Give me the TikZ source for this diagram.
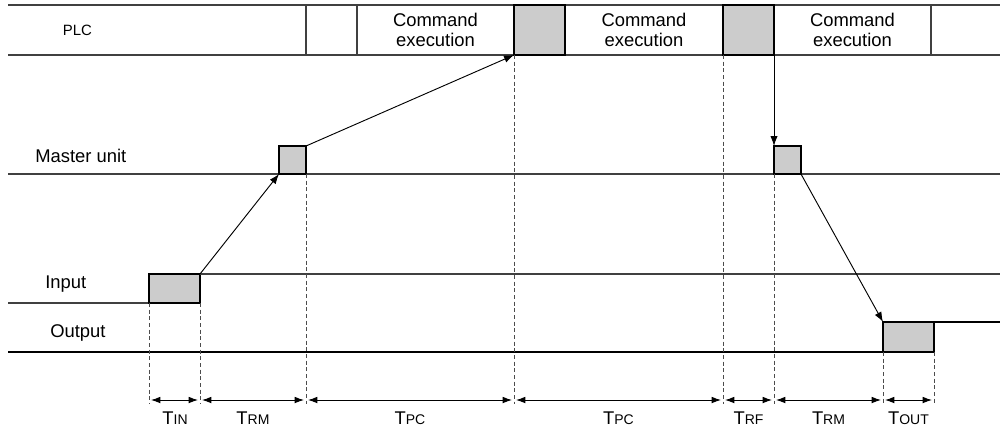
\documentclass[tikz,border=0pt]{standalone}
\usepackage{fontspec}
\setmainfont{Liberation Sans}
\usetikzlibrary{arrows.meta}
\begin{document}
\begin{tikzpicture}[x=0.75pt,y=-0.75pt,
  hline/.style={draw=black!75, line width=0.8pt},
  gbox/.style={draw=black, fill=black!20, line width=0.8pt, inner sep=0pt, outer sep=0pt, anchor=north west},
  dline/.style={draw=black!70, line width=0.7pt, dash pattern=on 3pt off 2pt},
  sig/.style={draw=black, line width=0.7pt, -{Latex[length=7.5pt,width=5.5pt]}},
  dim/.style={draw=black, line width=0.7pt, {Latex[length=7pt,width=5pt]}-{Latex[length=7pt,width=5pt]}, shorten >=1.5pt, shorten <=1.5pt},
  lbl/.style={font=\fontsize{13.8pt}{15.5pt}\selectfont, inner sep=0pt},
  cmd/.style={font=\fontsize{13.8pt}{15.5pt}\selectfont, align=center, inner sep=0pt},
  tlab/.style={inner sep=0pt, anchor=base}
]
\useasboundingbox (0,0) rectangle (1000,430);
% PLC band
\draw[hline] (8,5) -- (1000,5);
\draw[hline] (8,55) -- (1000,55);
\draw[hline] (306,5) -- (306,55);
\draw[hline] (357,5) -- (357,55);
\draw[hline] (931,5) -- (931,55);
\node[gbox, minimum width=38.25pt, minimum height=37.5pt] (p1) at (514,5) {};
\node[gbox, minimum width=38.25pt, minimum height=37.5pt] (p2) at (723,5) {};
\node[lbl, font=\fontsize{11.2pt}{13pt}\selectfont] (plc) at (77.5,30) {PLC};
\node[cmd] (c1) at (435.5,30) {Command\\execution};
\node[cmd] (c2) at (644,30) {Command\\execution};
\node[cmd] (c3) at (852.5,30) {Command\\execution};
% Master unit
\node[lbl, anchor=west] (mu) at (35,156) {Master unit};
\draw[hline] (8,174) -- (1000,174);
\node[gbox, minimum width=20.25pt, minimum height=21pt] (m1) at (279,146) {};
\node[gbox, minimum width=20.25pt, minimum height=21pt] (m2) at (774,146) {};
% Input
\node[lbl, anchor=west] (in) at (45,284) {Input};
\draw[hline] (8,303) -- (149,303);
\node[gbox, minimum width=38.25pt, minimum height=21.75pt] (ib) at (149,274) {};
\draw[hline] (ib.north east) -- (1000,274);
% Output
\node[lbl, anchor=west] (out) at (50,333) {Output};
\draw[draw=black, line width=0.8pt] (8,352) -- (883,352);
\node[gbox, minimum width=38.25pt, minimum height=22.5pt] (ob) at (883,322) {};
\draw[draw=black, line width=0.8pt] (ob.north east) -- (1000,322);
% signal arrows
\draw[sig] (ib.north east) -- (m1.south west);
\draw[sig] (m1.north east) -- (p1.south west);
\draw[sig] (p2.south east) -- (m2.north west);
\draw[sig] (m2.south east) -- (ob.north west);
% dashed guides
\coordinate (d1) at (149,404);
\coordinate (d2) at (200,404);
\coordinate (d3) at (306,404);
\coordinate (d4) at (514,404);
\coordinate (d5) at (723,404);
\coordinate (d6) at (774,404);
\coordinate (d7) at (883,404);
\coordinate (d8) at (934,404);
\draw[dline] (ib.south west) -- (d1);
\draw[dline] (ib.south east) -- (d2);
\draw[dline] (m1.south east) -- (d3);
\draw[dline] (p1.south west) -- (d4);
\draw[dline] (p2.south west) -- (d5);
\draw[dline] (m2.south west) -- (d6);
\draw[dline] (ob.south west) -- (d7);
\draw[dline] (ob.south east) -- (d8);
% dimension arrows
\foreach \a/\b in {149/200,200/306,306/514,514/723,723/774,774/883,883/934}{
  \draw[dim] (\a,400) -- (\b,400);
}
\newcommand{\tsub}[2]{{\fontsize{13.8pt}{15pt}\selectfont #1}{\fontsize{10.5pt}{12pt}\selectfont #2}}
\node[tlab] (tin) at (175,424) {\tsub{T}{IN}};
\node[tlab] (trm1) at (253,424) {\tsub{T}{RM}};
\node[tlab] (tpc1) at (410,424) {\tsub{T}{PC}};
\node[tlab] (tpc2) at (618.5,424) {\tsub{T}{PC}};
\node[tlab] (trf) at (748.5,424) {\tsub{T}{RF}};
\node[tlab] (trm2) at (828.5,424) {\tsub{T}{RM}};
\node[tlab] (tout) at (908.5,424) {\tsub{T}{OUT}};
\end{tikzpicture}
\end{document}
